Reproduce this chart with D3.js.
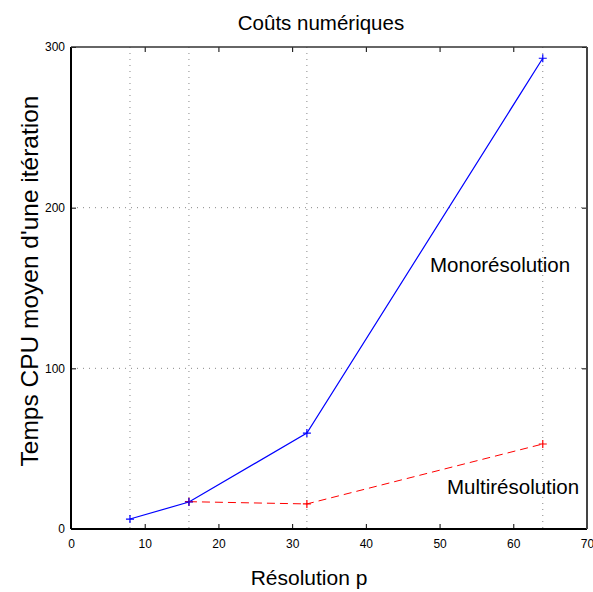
<!DOCTYPE html>
<html><head><meta charset="utf-8">
<script src="https://cdn.jsdelivr.net/npm/d3@7"></script>
<style>body{margin:0;background:#fff}svg{display:block;font-family:"Liberation Sans",Arial,sans-serif}</style>
</head><body><svg id="c" width="593" height="592"></svg>
<script>
const resolutions = [8, 16, 32, 64];
const mono = [6.2, 16.8, 59.7, 293];
const multiRes = [16, 32, 64];
const multi = [17, 15.6, 52.9];
const xTicks = [0, 10, 20, 30, 40, 50, 60, 70];
const yTicks = [0, 100, 200, 300];
const yGrid = [100, 200];

const svg = d3.select("#c");
const L = 71, R = 587, T = 47, B = 529;
const x = d3.scaleLinear().domain([0, 70]).range([L, R]);
const y = d3.scaleLinear().domain([0, 300]).range([B, T]);

// grid
svg.append("g").selectAll("line").data(resolutions).join("line")
  .attr("x1", d => x(d)).attr("x2", d => x(d)).attr("y1", T).attr("y2", B)
  .attr("stroke", "#888").attr("stroke-width", 1).attr("stroke-dasharray", "1,5");
svg.append("g").selectAll("line").data(yGrid).join("line")
  .attr("y1", d => y(d)).attr("y2", d => y(d)).attr("x1", L).attr("x2", R)
  .attr("stroke", "#888").attr("stroke-width", 1).attr("stroke-dasharray", "1,5");

// axes with inward ticks
const xb = svg.append("g").attr("transform", `translate(0,${B})`)
  .call(d3.axisBottom(x).tickValues(xTicks).tickSizeInner(-5).tickSizeOuter(0).tickPadding(10));
const xt = svg.append("g").attr("transform", `translate(0,${T})`)
  .call(d3.axisTop(x).tickValues(xTicks).tickSizeInner(-5).tickSizeOuter(0).tickFormat(""));
const yl = svg.append("g").attr("transform", `translate(${L},0)`)
  .call(d3.axisLeft(y).tickValues(yTicks).tickSizeInner(-5).tickSizeOuter(0).tickPadding(6));
const yr = svg.append("g").attr("transform", `translate(${R},0)`)
  .call(d3.axisRight(y).tickValues(yTicks).tickSizeInner(-5).tickSizeOuter(0).tickFormat(""));
[xb, xt, yl, yr].forEach(g => {
  g.selectAll(".domain").remove();
  g.selectAll("text").attr("font-size", 12).attr("fill", "#000").attr("font-family", "Liberation Sans, Arial, sans-serif");
  g.selectAll(".tick line").attr("stroke", "#000");
});
// frame
svg.append("line").attr("x1", L).attr("x2", R).attr("y1", B).attr("y2", B).attr("stroke", "#000").attr("stroke-width", 2);
svg.append("line").attr("x1", L).attr("x2", L).attr("y1", T).attr("y2", B).attr("stroke", "#000").attr("stroke-width", 2);
svg.append("line").attr("x1", L).attr("x2", R).attr("y1", T).attr("y2", T).attr("stroke", "#333").attr("stroke-width", 1.5);
svg.append("line").attr("x1", R).attr("x2", R).attr("y1", T).attr("y2", B).attr("stroke", "#444").attr("stroke-width", 2);

// lines
const line = d3.line().x(d => x(d[0])).y(d => y(d[1]));
const monoPts = resolutions.map((r, i) => [r, mono[i]]);
const multiPts = multiRes.map((r, i) => [r, multi[i]]);
svg.append("path").attr("d", line(multiPts)).attr("fill", "none").attr("stroke", "#ff0000").attr("stroke-width", 1).attr("stroke-dasharray", "8,5");
svg.append("path").attr("d", line(monoPts)).attr("fill", "none").attr("stroke", "#0000ff").attr("stroke-width", 1.2);

function plus(g, pts, color) {
  g.selectAll("path.m").data(pts).join("path").attr("class", "m")
    .attr("d", d => `M${x(d[0]) - 4},${y(d[1])}h8M${x(d[0])},${y(d[1]) - 4}v8`)
    .attr("stroke", color).attr("stroke-width", 1.2).attr("fill", "none");
}
plus(svg.append("g"), multiPts, "#ff0000");
plus(svg.append("g"), monoPts, "#0000ff");

// texts
svg.append("text").attr("x", 321).attr("y", 30).attr("text-anchor", "middle").attr("font-size", 20.5).text("Coûts numériques");
svg.append("text").attr("x", 309).attr("y", 585).attr("text-anchor", "middle").attr("font-size", 21).text("Résolution p");
svg.append("text").attr("transform", `translate(38,281) rotate(-90)`).attr("text-anchor", "middle").attr("font-size", 24.5).text("Temps CPU moyen d'une itération");
svg.append("text").attr("x", 430).attr("y", 272).attr("font-size", 20.5).text("Monorésolution");
svg.append("text").attr("x", 447).attr("y", 494).attr("font-size", 20.5).text("Multirésolution");
</script></body></html>
